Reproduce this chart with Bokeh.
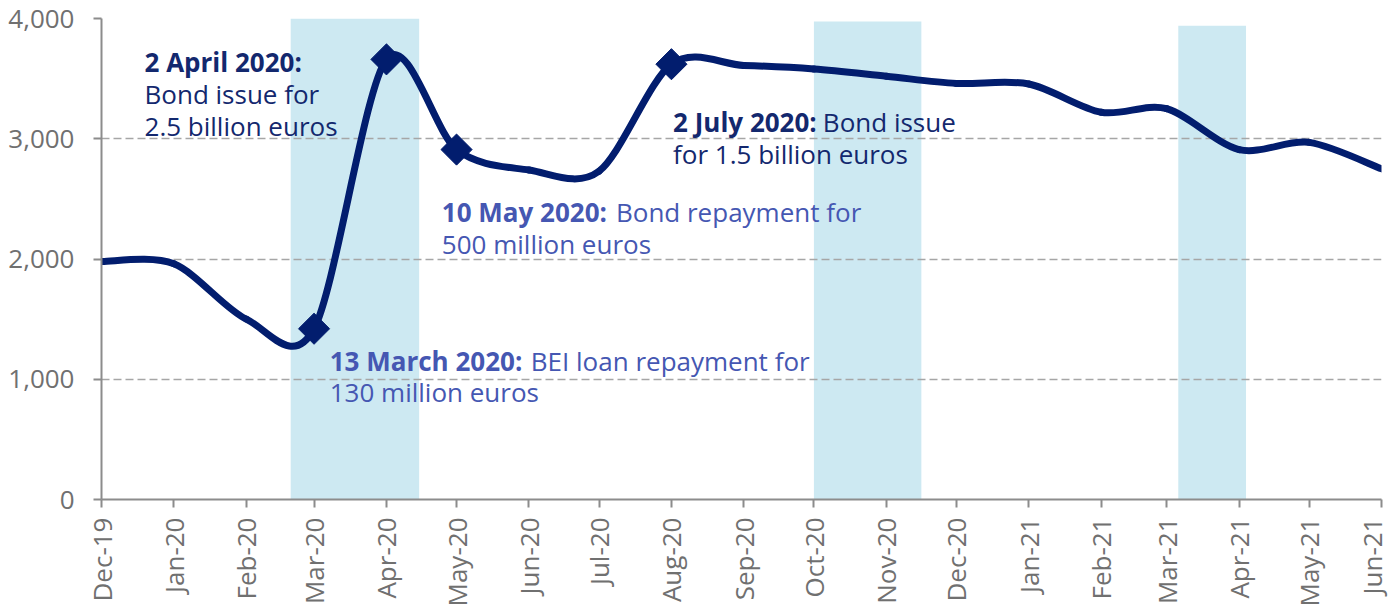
import math
import numpy as np
import pandas as pd
from bokeh.plotting import figure
from bokeh.models import Range1d, FixedTicker, NumeralTickFormatter, Label
from bokeh.embed import file_html
from bokeh.resources import INLINE

# ---------------- data ----------------
months = ["2019-12-01", "2020-01-01", "2020-02-01", "2020-03-01", "2020-04-01",
          "2020-05-01", "2020-06-01", "2020-07-01", "2020-08-01", "2020-09-01",
          "2020-10-01", "2020-11-01", "2020-12-01", "2021-01-01", "2021-02-01",
          "2021-03-01", "2021-04-01", "2021-05-01", "2021-06-01"]
month_labels = ["Dec-19", "Jan-20", "Feb-20", "Mar-20", "Apr-20", "May-20", "Jun-20",
                "Jul-20", "Aug-20", "Sep-20", "Oct-20", "Nov-20", "Dec-20", "Jan-21",
                "Feb-21", "Mar-21", "Apr-21", "May-21", "Jun-21"]
cash = [1980, 1960, 1500, 1420, 3660, 2910, 2740, 2730, 3620, 3610,
        3580, 3520, 3460, 3455, 3220, 3250, 2910, 2970, 2750]

event_months = ["2020-03-01", "2020-04-01", "2020-05-01", "2020-08-01"]
event_values = [1420, 3660, 2910, 3620]

band_start = ["2020-02-20", "2020-10-01", "2021-03-06"]
band_end = ["2020-04-15", "2020-11-16", "2021-04-04"]
band_top = [4000, 3975, 3940]

y_ticks = [0, 1000, 2000, 3000, 4000]


def ms(d):
    return int(pd.Timestamp(d).timestamp() * 1000)


xm = [ms(m) for m in months]

# ---------------- figure ----------------
NAVY = "#021d6e"
TXT_DARK = "#13286e"
TXT_LIGHT = "#4557b2"
GREY = "#707070"
FONT = "Open Sans"

p = figure(width=1389, height=612,
           x_range=Range1d(xm[0], xm[-1]), y_range=Range1d(0, 4000),
           output_backend="svg", toolbar_location=None,
           min_border_left=101, min_border_right=8, min_border_top=18,
           min_border_bottom=113)
p.outline_line_color = None
p.background_fill_color = "white"
p.border_fill_color = "white"

# bands (below grid)
p.quad(left=[ms(d) for d in band_start], right=[ms(d) for d in band_end],
       bottom=0, top=band_top, fill_color="#cde9f2", line_color=None,
       level="image")

# grid
p.xgrid.visible = False
p.ygrid.ticker = FixedTicker(ticks=y_ticks[1:])
p.ygrid.grid_line_color = "#a6a6a6"
p.ygrid.grid_line_dash = "8 4"
p.ygrid.grid_line_width = 1.5

# axes
for ax in (p.xaxis[0], p.yaxis[0]):
    ax.axis_line_color = "#8c8c8c"
    ax.axis_line_width = 2
    ax.major_tick_line_color = "#8c8c8c"
    ax.major_tick_line_width = 2
    ax.major_tick_out = 8
    ax.major_tick_in = 0
    ax.minor_tick_line_color = None
    ax.major_label_text_font = FONT
    ax.major_label_text_font_size = "26px"
    ax.major_label_text_color = GREY

p.yaxis.ticker = FixedTicker(ticks=y_ticks)
p.yaxis.formatter = NumeralTickFormatter(format="0,0")
p.yaxis.major_label_standoff = 19

p.xaxis.ticker = FixedTicker(ticks=xm)
p.xaxis.major_label_overrides = {t: lab for t, lab in zip(xm, month_labels)}
p.xaxis.major_label_orientation = math.pi / 2
p.xaxis.major_label_standoff = 10

# smoothed line (Catmull-Rom style Bezier segments through the monthly points)
xs = np.array(xm, dtype=float)
ys = np.array(cash, dtype=float)
xp = np.concatenate([[xs[0]], xs, [xs[-1]]])
yp = np.concatenate([[ys[0]], ys, [ys[-1]]])
n = len(xs)
k = 6.5
x0 = xs[:-1]; y0 = ys[:-1]; x1 = xs[1:]; y1 = ys[1:]
cx0 = x0 + (xp[2:n + 1] - xp[0:n - 1]) / k
cy0 = y0 + (yp[2:n + 1] - yp[0:n - 1]) / k
cx1 = x1 - (xp[3:n + 2] - xp[1:n]) / k
cy1 = y1 - (yp[3:n + 2] - yp[1:n]) / k
p.bezier(x0=x0, y0=y0, x1=x1, y1=y1, cx0=cx0, cy0=cy0, cx1=cx1, cy1=cy1,
         line_color=NAVY, line_width=7, line_cap="round")

# event markers
p.scatter(x=[ms(d) for d in event_months], y=event_values, marker="square",
          size=22, angle=math.pi / 4, fill_color=NAVY, line_color=NAVY)


# annotations
def lab(text, date, yv, color, bold=False):
    p.add_layout(Label(x=ms(date), y=yv, text=text, text_font=FONT,
                       text_font_size="26px", text_color=color,
                       text_font_style="bold" if bold else "normal",
                       text_baseline="middle", text_align="left"))


lab("2 April 2020:", "2019-12-19 10:00", 3642, TXT_DARK, bold=True)
lab("Bond issue for", "2019-12-19 10:00", 3376, TXT_DARK)
lab("2.5 billion euros", "2019-12-19 10:00", 3110, TXT_DARK)

lab("2 July 2020:", "2020-08-01 17:00", 3143, TXT_DARK, bold=True)
lab("Bond issue", "2020-10-04 20:00", 3143, TXT_DARK)
lab("for 1.5 billion euros", "2020-08-01 17:00", 2877, TXT_DARK)

lab("10 May 2020:", "2020-04-24 17:00", 2387, TXT_LIGHT, bold=True)
lab("Bond repayment for", "2020-07-08 06:00", 2387, TXT_LIGHT)
lab("500 million euros", "2020-04-24 17:00", 2121, TXT_LIGHT)

lab("13 March 2020:", "2020-03-07 17:00", 1148, TXT_LIGHT, bold=True)
lab("BEI loan repayment for", "2020-06-01 19:00", 1148, TXT_LIGHT)
lab("130 million euros", "2020-03-07 17:00", 890, TXT_LIGHT)

open("out.html", "w").write(file_html(p, INLINE))
